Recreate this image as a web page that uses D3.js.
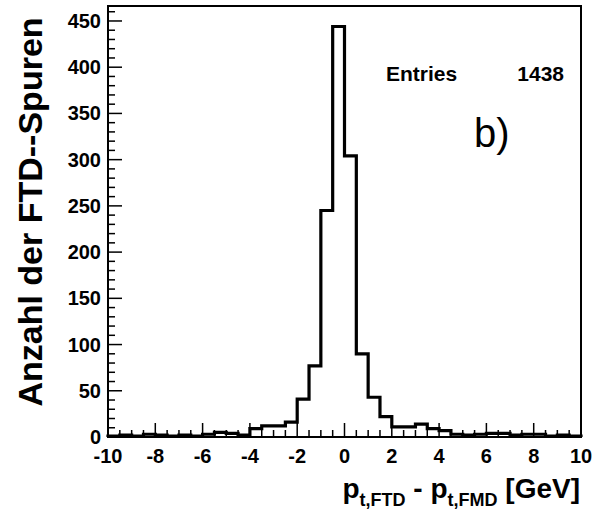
<!DOCTYPE html>
<html>
<head>
<meta charset="utf-8">
<script src="https://cdn.jsdelivr.net/npm/d3@7"></script>
<style>
  body { margin: 0; background: #fff; }
  svg { display: block; font-family: "Liberation Sans", Arial, sans-serif; }
</style>
</head>
<body>
<svg id="chart" width="610" height="521"></svg>
<script>
// bin edges: -10 .. 10 in steps of 0.5
const binLow = d3.range(-10, 10, 0.5);
const counts = [
  1, 2, 1, 3, 2, 1, 2, 1, 3, 5, 4, 2,     // -10 .. -4
  9, 12, 12, 16, 41, 77, 245, 444,        // -4 .. 0
  304, 90, 43, 22, 11, 11, 14, 9, 7, 3,   // 0 .. 5
  2, 3, 4, 4, 2, 3, 3, 1, 2, 1            // 5 .. 10
];
const xTicks = [-10, -8, -6, -4, -2, 0, 2, 4, 6, 8, 10];
const yTicks = [0, 50, 100, 150, 200, 250, 300, 350, 400, 450];
const entries = 1438;

const svg = d3.select("#chart");
const frameL = 108, frameR = 581, frameT = 6, frameB = 437;

const x = d3.scaleLinear().domain([-10, 10]).range([frameL, frameR]);
const y = d3.scaleLinear().domain([0, d3.max(counts) * 1.05]).range([frameB, frameT]);

// frame
svg.append("rect")
    .attr("x", frameL).attr("y", frameT)
    .attr("width", frameR - frameL).attr("height", frameB - frameT)
    .attr("fill", "none").attr("stroke", "#000").attr("stroke-width", 2);

// histogram outline as a step path
const pts = [];
pts.push([x(-10), y(0)]);
binLow.forEach((b, i) => {
    pts.push([x(b), y(counts[i])]);
    pts.push([x(b + 0.5), y(counts[i])]);
});
pts.push([x(10), y(0)]);
svg.append("path")
    .attr("d", d3.line()(pts))
    .attr("fill", "none")
    .attr("stroke", "#000")
    .attr("stroke-width", 3.2)
    .attr("stroke-linejoin", "miter");

// x ticks
const xMinor = d3.range(-10, 10.01, 0.5);
svg.append("g").selectAll("line")
    .data(xMinor)
    .join("line")
    .attr("x1", d => x(d)).attr("x2", d => x(d))
    .attr("y1", frameB)
    .attr("y2", d => frameB - (Math.abs(d % 2) < 1e-9 ? 14 : 7))
    .attr("stroke", "#000").attr("stroke-width", 1.5);

svg.append("g").selectAll("text")
    .data(xTicks)
    .join("text")
    .attr("x", d => x(d))
    .attr("y", 463)
    .attr("text-anchor", "middle")
    .style("font-size", "20px")
    .style("font-weight", "bold")
    .text(d => d);

// y ticks
const yMinor = d3.range(0, 461, 10);
svg.append("g").selectAll("line")
    .data(yMinor)
    .join("line")
    .attr("y1", d => y(d)).attr("y2", d => y(d))
    .attr("x1", frameL)
    .attr("x2", d => frameL + (d % 50 === 0 ? 14 : 7))
    .attr("stroke", "#000").attr("stroke-width", 1.5);

svg.append("g").selectAll("text")
    .data(yTicks)
    .join("text")
    .attr("x", 101)
    .attr("y", d => y(d) + 7)
    .attr("text-anchor", "end")
    .style("font-size", "20px")
    .style("font-weight", "bold")
    .text(d => d);

// y title
svg.append("text")
    .attr("transform", "translate(42,212) rotate(-90)")
    .attr("text-anchor", "middle")
    .style("font-size", "34px")
    .style("font-weight", "bold")
    .text("Anzahl der FTD--Spuren");

// x title
const xt = svg.append("text")
    .attr("x", 580)
    .attr("y", 498)
    .attr("text-anchor", "end")
    .style("font-size", "28px")
    .style("font-weight", "bold");
xt.append("tspan").text("p");
xt.append("tspan").attr("dy", 8).style("font-size", "18px").text("t,FTD");
xt.append("tspan").attr("dy", -8).text(" - p");
xt.append("tspan").attr("dy", 8).style("font-size", "18px").text("t,FMD");
xt.append("tspan").attr("dy", -8).text(" [GeV]");

// stats
svg.append("text")
    .attr("x", 386).attr("y", 81)
    .style("font-size", "21px").style("font-weight", "bold")
    .text("Entries");
svg.append("text")
    .attr("x", 564).attr("y", 81)
    .attr("text-anchor", "end")
    .style("font-size", "21px").style("font-weight", "bold")
    .text(entries);

svg.append("text")
    .attr("x", 474).attr("y", 147)
    .style("font-size", "40px")
    .text("b)");
</script>
</body>
</html>
